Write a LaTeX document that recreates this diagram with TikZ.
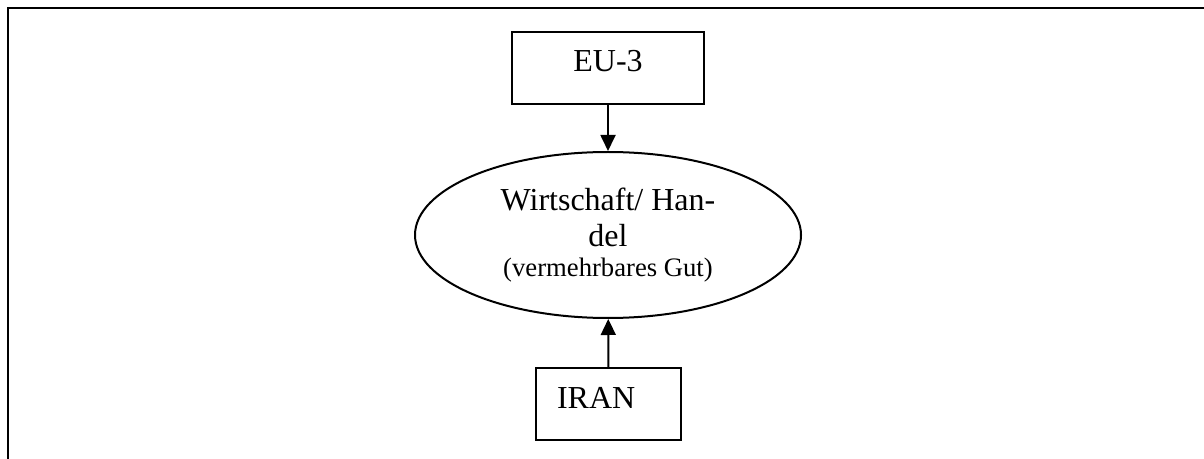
\documentclass[tikz,border=0pt]{standalone}
\usepackage{fontspec}
\setmainfont{Liberation Serif}
\usetikzlibrary{arrows.meta,shapes.geometric}

\begin{document}
\begin{tikzpicture}[x=0.375pt, y=-0.375pt, line width=0.75pt, >={Triangle[length=6pt,width=5.6pt]},
  box/.style={draw, rectangle, minimum height=27pt, text height=8.5pt, text depth=5.5pt, font=\fontsize{12}{13.5}\selectfont}]
\path[use as bounding box] (0,0) rectangle (1204,459);
\draw (1204,8) -- (8,8) -- (8,459);
\node[box, minimum width=72pt] (eu) at (608,68) {EU-3};
\node[draw, ellipse, inner sep=0pt, minimum width=144.75pt, minimum height=62.25pt, align=center, font=\fontsize{12}{13.5}\selectfont] (handel) at (608,235) {Wirtschaft/ Han-\\del\\[-2.25pt]{\fontsize{10}{11.25}\selectfont (vermehrbares Gut)}};
\node[box, minimum width=54.4pt, text width=38.6pt, inner xsep=7.9pt, align=left] (iran) at (608.5,404) {IRAN};
\draw[->] (eu) -- (handel);
\draw[->] (iran) -- (handel);
\end{tikzpicture}
\end{document}
